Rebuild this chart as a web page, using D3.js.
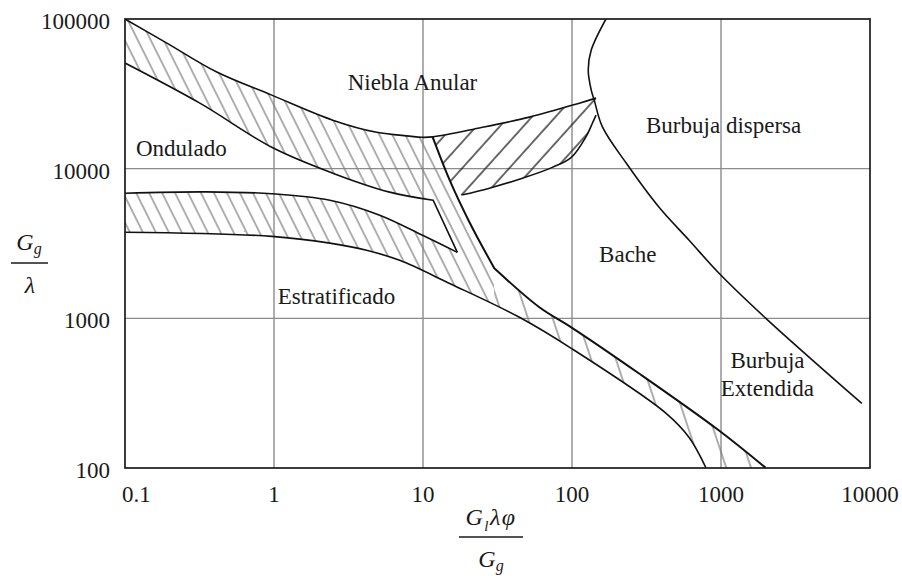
<!DOCTYPE html>
<html><head><meta charset="utf-8">
<script src="https://cdn.jsdelivr.net/npm/d3@7"></script>
<style>
body{margin:0;background:#fff}
svg{display:block;background:#fff}
text{font-family:"Liberation Serif","Times New Roman","DejaVu Serif","Noto Serif",serif;}
</style>
</head><body>
<svg id="chart" width="902" height="576"></svg>
<script>
// ---- data (log-log Baker chart) ----
const xTicks = [0.1, 1, 10, 100, 1000, 10000];
const xTickLabels = ["0.1", "1", "10", "100", "1000", "10000"];
const yTicks = [100, 1000, 10000, 100000];
const yTickLabels = ["100", "1000", "10000", "100000"];

// upper boundary of the upper transition band (lower edge of "Niebla Anular")
const topCurve = [[0.1,100000],[0.191,69000],[0.413,44200],[0.966,31000],[2.48,21100],[4.88,17500],[8.12,16500],[9.77,16200],[11.6,16300],[23.9,18700],[51.8,22100],[112,27400],[145,29600]];
// lower edge of the upper band (upper edge of "Ondulado" wedge)
const upperBandLower = [[0.1,50800],[0.318,27400],[0.966,13900],[2.48,9330],[5.97,6970],[11.7,6150]];
// upper edge of the lower band, left part, ending at the notch tip
const lowerBandUpperLeft = [[0.1,6850],[0.35,7000],[0.966,6800],[2.37,6150],[5.12,4890],[9.93,3590],[17.0,2760]];
// right edge of the diagonal (annular/slug) band
const diagonalRight = [[11.6,16300],[15.1,8380],[20.5,4390],[30.1,2160]];
// upper edge of the lower band, right part
const lowerBandUpperRight = [[30.1,2160],[60.4,1186],[98.9,871],[282,428],[970,178],[2000,100]];
// lower edge of the lower band ("Estratificado" boundary)
const lowerBandLower = [[0.1,3760],[0.966,3530],[2.37,3180],[4.18,2850],[6.97,2440],[15.1,1710],[44.4,1016],[98.9,630],[428,232],[611,160],[794,100]];
// lower edge of the Niebla / Bache transition region
const nbBottom = [[18.1,6660],[27.9,7410],[46.5,8630],[73.8,10200],[98.9,11900],[124,16300],[137,20100],[145,22800]];
// Burbuja dispersa boundary
const burbuja = [[169,100000],[134.6,62000],[128.5,45600],[134.6,33500],[141,28700],[160,19000],[231,10900],[384,5520],[611,3325],[970,2000],[2000,1000],[8810,270]];

const regionNames = ["Niebla Anular","Ondulado","Burbuja dispersa","Bache","Estratificado","Burbuja","Extendida"];
const regionX = [3.12, 0.1185, 314, 152, 1.06, 2050, 2050];
const regionY = [33500, 12100, 17300, 2370, 1240, 464, 301];
const hatchSplitX = 30;

// ---- drawing ----
const svg = d3.select("#chart");
const x = d3.scaleLog().domain([0.1, 10000]).range([125, 870]);
const y = d3.scaleLog().domain([100, 100000]).range([468, 19]);
const smooth = d3.line().x(d => x(d[0])).y(d => y(d[1])).curve(d3.curveCatmullRom.alpha(0.5));
const straight = d3.line().x(d => x(d[0])).y(d => y(d[1]));
const serif = '"Liberation Serif","Times New Roman","DejaVu Serif","Noto Serif",serif';

function joinPath(segs) {
  return segs.map((s, i) => {
    const p = (s.s ? straight : smooth)(s.p);
    return i ? p.replace(/^M/, "L") : p;
  }).join("") + "Z";
}

const defs = svg.append("defs");
defs.append("clipPath").attr("id", "plot").append("rect")
  .attr("x", x(0.1)).attr("y", y(100000))
  .attr("width", x(10000) - x(0.1)).attr("height", y(100) - y(100000));

function addPattern(id, spacing, angle, color, width) {
  const p = defs.append("pattern").attr("id", id).attr("patternUnits", "userSpaceOnUse")
    .attr("width", spacing).attr("height", 10)
    .attr("patternTransform", `rotate(${angle})`);
  p.append("line").attr("x1", 1).attr("y1", -1).attr("x2", 1).attr("y2", 11)
    .attr("stroke", color).attr("stroke-width", width);
}
addPattern("hatchDense", 11.6, -26.5, "#7a7a7a", 1.2);
addPattern("hatchSparse", 23.5, -18.4, "#7a7a7a", 1.2);
addPattern("hatchDark", 17.5, 42, "#1a1a1a", 1.3);

const dtX = diagonalRight[0][0];
const bandPath = joinPath([
  {p: topCurve.filter(d => d[0] <= dtX)},
  {p: diagonalRight},
  {p: lowerBandUpperRight},
  {p: [...lowerBandLower].reverse()},
  {p: lowerBandUpperLeft},
  {p: [...upperBandLower].reverse()}
]);
const nbPath = joinPath([
  {p: topCurve.filter(d => d[0] >= dtX)},
  {p: [...nbBottom].reverse()},
  {p: diagonalRight.filter(d => d[1] > nbBottom[0][1]).reverse(), s: true}
]);
defs.append("clipPath").attr("id", "band").append("path").attr("d", bandPath);
defs.append("clipPath").attr("id", "nb").append("path").attr("d", nbPath);

// grid
const grid = svg.append("g").attr("stroke", "#8c8c8c").attr("stroke-width", 1.4);
grid.selectAll(".gx").data(xTicks.slice(1, -1)).join("line")
  .attr("x1", d => x(d)).attr("x2", d => x(d)).attr("y1", y(100000)).attr("y2", y(100));
grid.selectAll(".gy").data(yTicks.slice(1, -1)).join("line")
  .attr("y1", d => y(d)).attr("y2", d => y(d)).attr("x1", x(0.1)).attr("x2", x(10000));

// hatching
const hatch = svg.append("g").attr("clip-path", "url(#plot)");
hatch.append("g").attr("clip-path", "url(#band)").append("rect")
  .attr("x", x(0.1)).attr("y", y(100000)).attr("width", x(hatchSplitX) - x(0.1)).attr("height", y(100) - y(100000))
  .attr("fill", "url(#hatchDense)");
hatch.append("g").attr("clip-path", "url(#band)").append("rect")
  .attr("x", x(hatchSplitX)).attr("y", y(100000)).attr("width", x(10000) - x(hatchSplitX)).attr("height", y(100) - y(100000))
  .attr("fill", "url(#hatchSparse)");
hatch.append("g").attr("clip-path", "url(#nb)").append("rect")
  .attr("x", x(0.1)).attr("y", y(100000)).attr("width", x(10000) - x(0.1)).attr("height", y(100) - y(100000))
  .attr("fill", "url(#hatchDark)");

// curves
const curves = svg.append("g").attr("clip-path", "url(#plot)")
  .attr("fill", "none").attr("stroke", "#111").attr("stroke-width", 1.6).attr("stroke-linejoin", "miter");
curves.append("path").attr("d", smooth(topCurve));
curves.append("path").attr("d", smooth(upperBandLower) + straight([upperBandLower[upperBandLower.length - 1], lowerBandUpperLeft[lowerBandUpperLeft.length - 1]]).replace(/^M/, "L"));
curves.append("path").attr("d", smooth(lowerBandUpperLeft));
curves.append("path").attr("d", smooth(diagonalRight) + smooth(lowerBandUpperRight).replace(/^M/, "L")).attr("stroke-width", 2);
curves.append("path").attr("d", smooth(lowerBandLower));
curves.append("path").attr("d", smooth(nbBottom));
curves.append("path").attr("d", smooth(burbuja));

// frame
svg.append("rect").attr("x", x(0.1)).attr("y", y(100000))
  .attr("width", x(10000) - x(0.1)).attr("height", y(100) - y(100000))
  .attr("fill", "none").attr("stroke", "#1a1a1a").attr("stroke-width", 1.7);

// tick labels
svg.append("g").selectAll("text").data(xTicks).join("text")
  .attr("x", (d, i) => i === 0 ? x(d) - 3 : x(d))
  .attr("y", y(100) + 34)
  .attr("text-anchor", (d, i) => i === 0 ? "start" : "middle")
  .style("font-family", serif).attr("font-size", 23).attr("fill", "#1a1a1a")
  .text((d, i) => xTickLabels[i]);
svg.append("g").selectAll("text").data(yTicks).join("text")
  .attr("x", x(0.1) - 15)
  .attr("y", d => y(d) + 10)
  .attr("text-anchor", "end")
  .style("font-family", serif).attr("font-size", 23).attr("fill", "#1a1a1a")
  .text((d, i) => yTickLabels[i]);

// region labels
svg.append("g").selectAll("text").data(regionNames).join("text")
  .attr("x", (d, i) => x(regionX[i])).attr("y", (d, i) => y(regionY[i]))
  .attr("text-anchor", (d, i) => i >= 5 ? "middle" : "start")
  .style("font-family", serif).attr("font-size", 23).attr("fill", "#1a1a1a")
  .text(d => d);

// axis titles (fractions)
const yt = svg.append("g").style("font-family", serif).attr("font-style", "italic").attr("fill", "#1a1a1a");
const ytNum = yt.append("text").attr("x", 29).attr("y", 250).attr("text-anchor", "middle").attr("font-size", 24);
ytNum.append("tspan").text("G");
ytNum.append("tspan").attr("dy", 4).attr("font-size", 16).text("g");
yt.append("line").attr("x1", 11).attr("x2", 48).attr("y1", 263).attr("y2", 263)
  .attr("stroke", "#1a1a1a").attr("stroke-width", 1.3);
yt.append("text").attr("x", 30).attr("y", 293).attr("text-anchor", "middle").attr("font-size", 24).text("λ");

const xt = svg.append("g").style("font-family", serif).attr("font-style", "italic").attr("fill", "#1a1a1a");
const xtNum = xt.append("text").attr("x", 491).attr("y", 525).attr("text-anchor", "middle")
  .attr("font-size", 24).attr("letter-spacing", 1.5);
xtNum.append("tspan").text("G");
xtNum.append("tspan").attr("dy", 6).attr("font-size", 15).text("l");
xtNum.append("tspan").attr("dy", -6).text("λφ");
xt.append("line").attr("x1", 459).attr("x2", 523).attr("y1", 537).attr("y2", 537)
  .attr("stroke", "#1a1a1a").attr("stroke-width", 1.3);
const xtDen = xt.append("text").attr("x", 491).attr("y", 567).attr("text-anchor", "middle").attr("font-size", 24);
xtDen.append("tspan").text("G");
xtDen.append("tspan").attr("dy", 4).attr("font-size", 16).text("g");
</script>
</body></html>
